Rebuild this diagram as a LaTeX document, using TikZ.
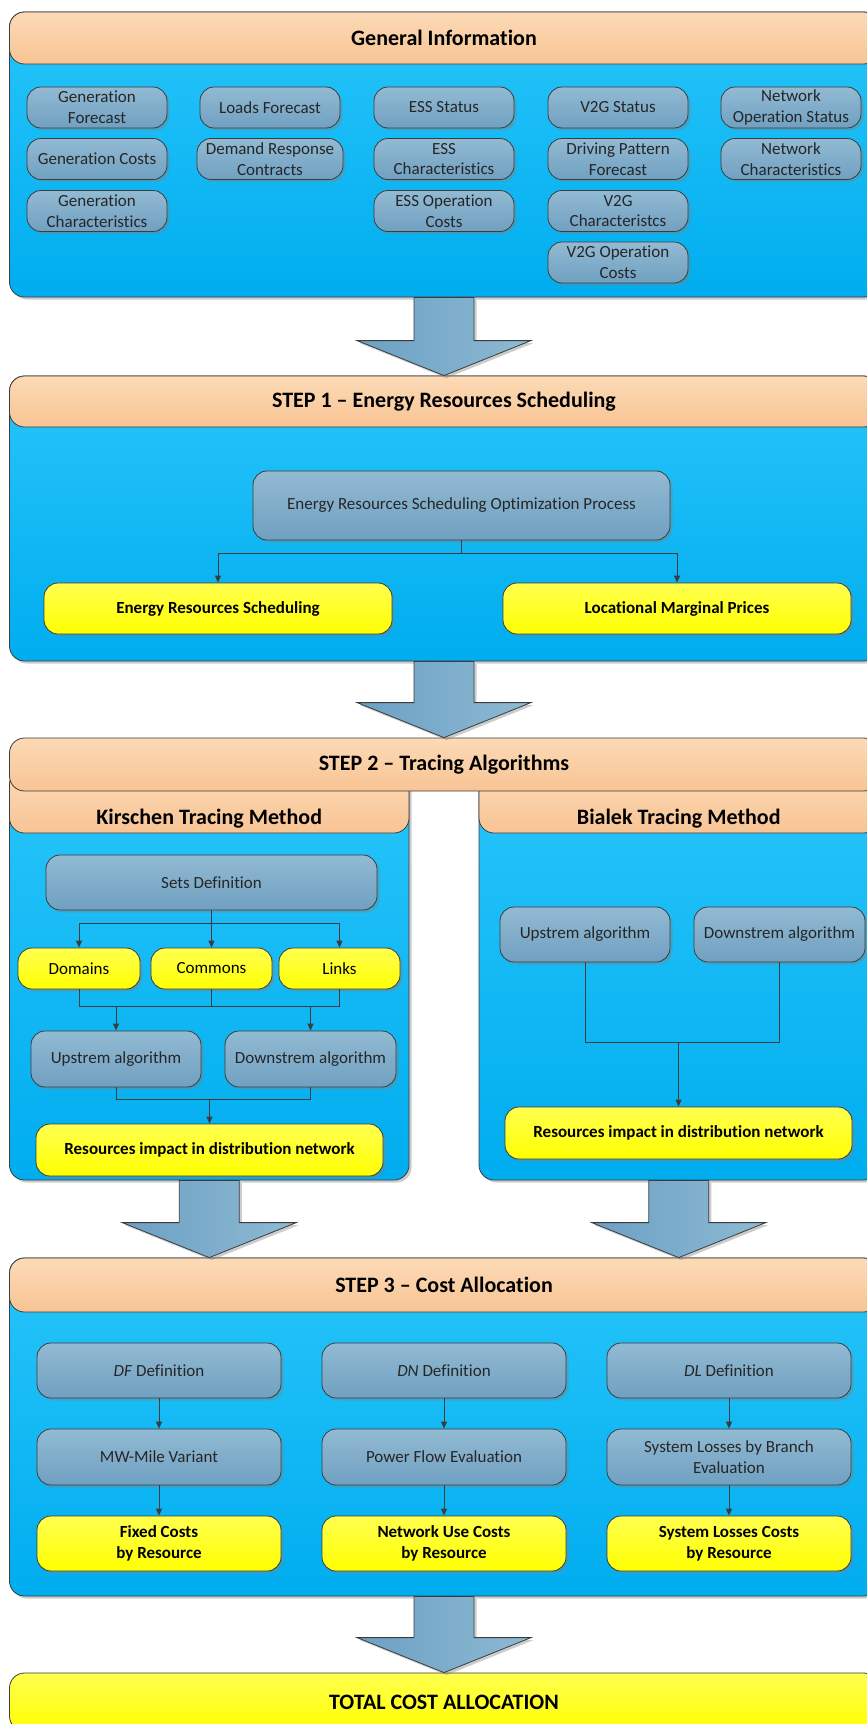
\documentclass[tikz,border=0pt]{standalone}
\usepackage{fontspec}
\setmainfont{Carlito}[Ligatures={TeX,NoCommon}]
\usetikzlibrary{arrows.meta,shadows,calc}

\definecolor{panelTop}{RGB}{40,197,250}
\definecolor{panelBot}{RGB}{0,173,239}
\definecolor{headTop}{RGB}{252,218,182}
\definecolor{headBot}{RGB}{248,196,148}
\definecolor{boxTop}{RGB}{146,186,211}
\definecolor{boxBot}{RGB}{112,160,193}
\definecolor{yelTop}{RGB}{255,255,80}
\definecolor{yelBot}{RGB}{255,255,0}
\definecolor{arrowL}{RGB}{108,160,196}
\definecolor{arrowR}{RGB}{142,186,211}
\definecolor{lineGray}{RGB}{60,60,60}

\tikzset{
  box size/.style 2 args={minimum width=#1pt, minimum height=#2pt},
  soft shadow/.style={drop shadow={shadow xshift=2.5pt, shadow yshift=-2.5pt, opacity=0.4}},
  panel/.style={draw=lineGray, line width=0.8pt, rounded corners=15pt, top color=panelTop, bottom color=panelBot, inner sep=0pt, soft shadow},
  header/.style={draw=lineGray, line width=0.8pt, rounded corners=15pt, top color=headTop, bottom color=headBot, inner sep=0pt, text=black, font=\fontsize{22}{26}\selectfont\bfseries},
  subheader/.style={header, text height=54pt, text depth=9pt},
  task/.style={draw=lineGray, line width=0.8pt, rounded corners=14pt, top color=boxTop, bottom color=boxBot, align=center, inner xsep=3pt, inner ysep=1pt, minimum width=140pt, minimum height=41pt, text=black!85, font=\fontsize{17}{20.7}\selectfont, soft shadow},
  result/.style={task, top color=yelTop, bottom color=yelBot, text=black, font=\fontsize{17}{20.7}\selectfont\bfseries},
  wire/.style={draw=lineGray, line width=0.9pt},
  link/.style={wire, -{Triangle[length=7pt,width=6pt]}},
  bigarrow/.style={draw=lineGray, line width=0.8pt, left color=arrowL, right color=arrowR, soft shadow}
}

% block arrow from the bottom of one panel down to the top of the next
\newcommand{\blockarrow}[2]{%
  \path[bigarrow] let \p1=(#1), \p2=(#2) in
    (\x1-30pt,\y1) -- (\x1+30pt,\y1) -- (\x1+30pt,\y2+35pt) -- (\x1+87pt,\y2+35pt)
    -- (\x1,\y2) -- (\x1-87pt,\y2+35pt) -- (\x1-30pt,\y2+35pt) -- cycle;}

\begin{document}
\begin{tikzpicture}[x=1pt, y=-1pt]
    \useasboundingbox (0,0) rectangle (867,1724);

    % General Information
    \node[panel, box size={869}{285}] (info) at (444,154.5) {};
    \node[header, box size={869}{52}] (infoh) at (444,38) {General Information};
    \node[task] (gf) at (97,107.5) {Generation\\Forecast};
    \node[task] (gc) at (97,159) {Generation Costs};
    \node[task] (gch) at (97,211) {Generation\\Characteristics};
    \node[task] (lf) at (270,107.5) {Loads Forecast};
    \node[task, minimum width=146pt] (dr) at (270,159) {Demand Response\\Contracts};
    \node[task] (es) at (444,107.5) {ESS Status};
    \node[task] (ech) at (444,159) {ESS\\Characteristics};
    \node[task] (eoc) at (444,211) {ESS Operation\\Costs};
    \node[task] (vs) at (618,107.5) {V2G Status};
    \node[task] (dp) at (618,159) {Driving Pattern\\Forecast};
    \node[task] (vch) at (618,211) {V2G\\Characteristcs};
    \node[task] (voc) at (618,262.5) {V2G Operation\\Costs};
    \node[task] (nos) at (791,107.5) {Network\\Operation Status};
    \node[task] (nch) at (791,159) {Network\\Characteristics};

    % STEP 1
    \node[panel, box size={869}{285}] (sched) at (444,518.5) {};
    \node[header, box size={869}{51}] (schedh) at (444,401.5) {STEP 1 \textendash{} Energy Resources Scheduling};
    \node[task, box size={417}{69}] (opt) at (461.5,505.5) {Energy Resources Scheduling Optimization Process};
    \node[result, box size={348}{51}] (ers) at (218,608.5) {Energy Resources Scheduling};
    \node[result, box size={348}{51}] (lmp) at (677,608.5) {Locational Marginal Prices};
    \draw[wire] (opt.south) -- ++(0,13) coordinate (s1);
    \draw[link] (s1) -| (ers.north);
    \draw[link] (s1) -| (lmp.north);

    % STEP 2 - Kirschen
    \node[panel, box size={399.5}{410}] (kir) at (209.25,975) {};
    \node[subheader, box size={399.5}{63}] (kirh) at (209.25,801.5) {Kirschen Tracing Method};
    \node[task, box size={331}{55}] (sets) at (211.5,882.5) {Sets Definition};
    \node[result, font=\fontsize{17}{20.7}\selectfont, box size={122}{41}] (dom) at (79,968.5) {Domains};
    \node[result, font=\fontsize{17}{20.7}\selectfont, box size={121}{41}] (com) at (211.5,968.5) {Commons};
    \node[result, font=\fontsize{17}{20.7}\selectfont, box size={121}{41}] (lnk) at (339.5,968.5) {Links};
    \node[task, box size={170}{56}] (up1) at (116,1059) {Upstrem algorithm};
    \node[task, box size={171}{56}] (dn1) at (310.5,1059) {Downstrem algorithm};
    \node[result, box size={347}{52}] (imp1) at (209.5,1150) {Resources impact in distribution network};
    \draw[wire] (sets.south) -- ++(0,13) coordinate (k1);
    \draw[link] (k1) -| (dom.north);
    \draw[link] (k1) -| (lnk.north);
    \draw[link] (sets.south) -- (com.north);
    \draw[wire] (dom.south) -- ++(0,17) coordinate (k2) -| (lnk.south);
    \draw[wire] (com.south) -- (com.south |- k2);
    \draw[link] (k2 -| up1.north) -- (up1.north);
    \draw[link] (k2 -| dn1.north) -- (dn1.north);
    \draw[wire] (up1.south) -- ++(0,12) coordinate (k3) -| (dn1.south);
    \draw[link] (k3 -| imp1.north) -- (imp1.north);

    % STEP 2 - Bialek
    \node[panel, box size={399.5}{410}] (bia) at (678.75,975) {};
    \node[subheader, box size={399.5}{63}] (biah) at (678.75,801.5) {Bialek Tracing Method};
    \node[task, box size={170}{55}] (up2) at (585,934.5) {Upstrem algorithm};
    \node[task, box size={171}{55}] (dn2) at (779.5,934.5) {Downstrem algorithm};
    \node[result, box size={347}{52}] (imp2) at (678.5,1133) {Resources impact in distribution network};
    \draw[wire] (up2.south) -- ++(0,80) coordinate (b1) -| (dn2.south);
    \draw[link] (b1 -| imp2.north) -- (imp2.north);

    \node[header, box size={869}{53}] (trace) at (444,764.5) {STEP 2 \textendash{} Tracing Algorithms};

    % STEP 3
    \node[panel, box size={869}{338}] (cost) at (444,1427) {};
    \node[header, box size={869}{54}] (costh) at (444,1285) {STEP 3 \textendash{} Cost Allocation};
    \node[task, box size={244}{55}] (df) at (159,1370.5) {\textit{DF} Definition};
    \node[task, box size={244}{55}] (dn) at (444,1370.5) {\textit{DN} Definition};
    \node[task, box size={244}{55}] (dl) at (729,1370.5) {\textit{DL} Definition};
    \node[task, box size={244}{56}] (mw) at (159,1457) {MW-Mile Variant};
    \node[task, box size={244}{56}] (pf) at (444,1457) {Power Flow Evaluation};
    \node[task, box size={244}{56}] (sl) at (729,1457) {System Losses by Branch\\Evaluation};
    \node[result, box size={244}{55}] (fc) at (159,1543.5) {Fixed Costs\\by Resource};
    \node[result, box size={244}{55}] (nu) at (444,1543.5) {Network Use Costs\\by Resource};
    \node[result, box size={244}{55}] (slc) at (729,1543.5) {System Losses Costs\\by Resource};
    \draw[link] (df) -- (mw);
    \draw[link] (dn) -- (pf);
    \draw[link] (dl) -- (sl);
    \draw[link] (mw) -- (fc);
    \draw[link] (pf) -- (nu);
    \draw[link] (sl) -- (slc);

    % TOTAL
    \node[result, rounded corners=15pt, font=\fontsize{22}{26}\selectfont\bfseries, box size={869}{58}] (total) at (444,1702) {TOTAL COST ALLOCATION};

    % block arrows between the steps
    \blockarrow{info.south}{sched.north}
    \blockarrow{sched.south}{trace.north}
    \blockarrow{kir.south}{cost.north}
    \blockarrow{bia.south}{cost.north}
    \blockarrow{cost.south}{total.north}
\end{tikzpicture}
\end{document}
